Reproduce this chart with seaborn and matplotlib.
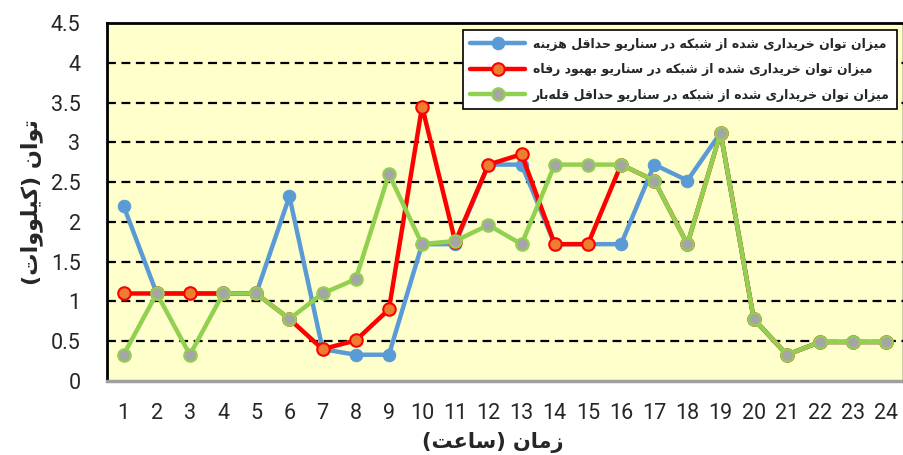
import numpy as np
import pandas as pd
import matplotlib
matplotlib.use("Agg")
import matplotlib.pyplot as plt
import seaborn as sns

# hours of the day
hours = list(range(1, 25))

# purchased power from grid (kW)
min_cost = [2.2, 1.1, 1.1, 1.1, 1.1, 2.32, 0.4, 0.33, 0.33, 1.72, 1.72, 2.72,
            2.72, 1.72, 1.72, 1.72, 2.72, 2.52, 3.12, 0.78, 0.33, 0.49, 0.49, 0.49]
welfare = [1.1, 1.1, 1.1, 1.1, 1.1, 0.78, 0.4, 0.51, 0.9, 3.45, 1.75, 2.72,
           2.85, 1.72, 1.72, 2.72, 2.52, 1.72, 3.12, 0.78, 0.33, 0.49, 0.49, 0.49]
min_peak = [0.33, 1.1, 0.33, 1.1, 1.1, 0.78, 1.1, 1.28, 2.6, 1.72, 1.76, 1.96,
            1.72, 2.72, 2.72, 2.72, 2.52, 1.72, 3.12, 0.78, 0.33, 0.49, 0.49, 0.49]

labels = [
    "میزان توان خریداری شده از شبکه در سناریو حداقل هزینه",
    "میزان توان خریداری شده از شبکه در سناریو بهبود رفاه",
    "میزان توان خریداری شده از شبکه در سناریو حداقل قله\u200cبار",
]
x_title = "زمان (ساعت)"
y_title = "توان (کیلووات)"

# --- minimal arabic/persian shaping (matplotlib has no shaping/bidi) ---
# isolated, final, initial, medial
forms = {
    "ا": ("\uFE8D", "\uFE8E", None, None),
    "ب": ("\uFE8F", "\uFE90", "\uFE91", "\uFE92"),
    "ت": ("\uFE95", "\uFE96", "\uFE97", "\uFE98"),
    "ح": ("\uFEA1", "\uFEA2", "\uFEA3", "\uFEA4"),
    "خ": ("\uFEA5", "\uFEA6", "\uFEA7", "\uFEA8"),
    "د": ("\uFEA9", "\uFEAA", None, None),
    "ر": ("\uFEAD", "\uFEAE", None, None),
    "ز": ("\uFEAF", "\uFEB0", None, None),
    "س": ("\uFEB1", "\uFEB2", "\uFEB3", "\uFEB4"),
    "ش": ("\uFEB5", "\uFEB6", "\uFEB7", "\uFEB8"),
    "ع": ("\uFEC9", "\uFECA", "\uFECB", "\uFECC"),
    "ف": ("\uFED1", "\uFED2", "\uFED3", "\uFED4"),
    "ق": ("\uFED5", "\uFED6", "\uFED7", "\uFED8"),
    "ل": ("\uFEDD", "\uFEDE", "\uFEDF", "\uFEE0"),
    "م": ("\uFEE1", "\uFEE2", "\uFEE3", "\uFEE4"),
    "ن": ("\uFEE5", "\uFEE6", "\uFEE7", "\uFEE8"),
    "ه": ("\uFEE9", "\uFEEA", "\uFEEB", "\uFEEC"),
    "و": ("\uFEED", "\uFEEE", None, None),
    "ک": ("\uFB8E", "\uFB8F", "\uFB90", "\uFB91"),
    "ی": ("\uFBFC", "\uFBFD", "\uFBFE", "\uFBFF"),
}


def fa(text):
    out = []
    n = len(text)
    for i, ch in enumerate(text):
        if ch not in forms:
            if ch != "\u200c":
                out.append(ch)
            continue
        prev = text[i - 1] if i > 0 else ""
        nxt = text[i + 1] if i < n - 1 else ""
        join_prev = prev in forms and forms[prev][2] is not None
        join_next = forms[ch][2] is not None and nxt in forms
        f = forms[ch]
        if join_prev and join_next:
            out.append(f[3])
        elif join_prev:
            out.append(f[1])
        elif join_next:
            out.append(f[2])
        else:
            out.append(f[0])
    vis = "".join(reversed(out))
    return vis.translate(str.maketrans("()", ")("))


sns.set_style("white")
plt.rcParams["font.family"] = ["Roboto", "DejaVu Sans"]

fig = plt.figure(figsize=(9.04, 4.55), dpi=100)
ax = fig.add_axes([107 / 904, 1 - 381 / 455, 796 / 904, 358 / 455])
ax.set_facecolor("#FFFFCC")

sns.lineplot(x=hours, y=min_cost, ax=ax, color="#5B9BD5", lw=3.2,
             marker="o", markersize=9, markerfacecolor="#5B9BD5",
             markeredgecolor="#5B9BD5", label=fa(labels[0]), zorder=3)
sns.lineplot(x=hours, y=welfare, ax=ax, color="#FF0000", lw=3.2,
             marker="o", markersize=9, markerfacecolor="#ED7D31",
             markeredgecolor="#FF0000", markeredgewidth=1.5,
             label=fa(labels[1]), zorder=4)
sns.lineplot(x=hours, y=min_peak, ax=ax, color="#92D050", lw=3.2,
             marker="o", markersize=9, markerfacecolor="#A5A5A5",
             markeredgecolor="#92D050", markeredgewidth=1.5,
             label=fa(labels[2]), zorder=5)

ax.set_xlim(0.5, 24.5)
ax.set_ylim(0, 4.5)
ax.set_xticks(hours)
ax.set_yticks(np.arange(0, 4.51, 0.5))
ax.set_yticklabels(["0"] + [f"{v:g}" for v in np.arange(0.5, 4.51, 0.5)])
ax.tick_params(axis="x", length=0, pad=16, labelsize=15.5)
ax.tick_params(axis="y", length=0, pad=19, labelsize=15.5)

for v in np.arange(0.5, 4.01, 0.5):
    ax.axhline(v, color="black", lw=1.6, ls=(0, (4, 2.5)), zorder=1)

for s in ["left", "top", "right"]:
    ax.spines[s].set_color("black")
ax.spines["left"].set_linewidth(2)
ax.spines["top"].set_linewidth(2)
ax.spines["right"].set_linewidth(1)
ax.spines["bottom"].set_color("#A0A0A0")
ax.spines["bottom"].set_linewidth(2.5)

ax.set_xlabel(fa(x_title), family="DejaVu Sans", fontweight="bold",
              fontsize=15, va="center")
ax.xaxis.set_label_coords(0.484, -0.172)
ax.set_ylabel(fa(y_title), family="DejaVu Sans", fontweight="bold",
              fontsize=16, labelpad=6)

leg = ax.legend(loc="upper right", bbox_to_anchor=(0.9925, 0.98),
                borderaxespad=0,
                prop={"family": "DejaVu Sans", "weight": "bold", "size": 9},
                frameon=True, fancybox=False, edgecolor="black",
                facecolor="white", framealpha=1, handlelength=4.4,
                handletextpad=0.6, labelspacing=1.0, borderpad=0.6)
leg.get_frame().set_linewidth(1.2)

fig.savefig("out.png", dpi=100)
